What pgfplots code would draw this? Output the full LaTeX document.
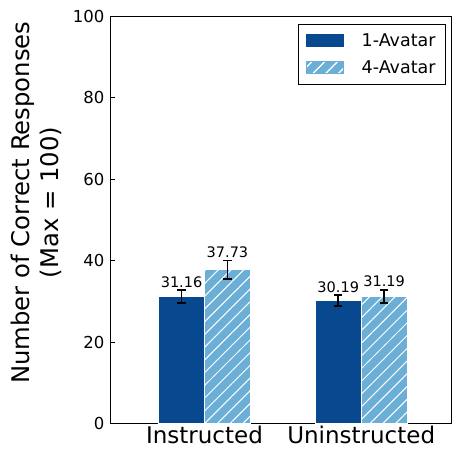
\documentclass[border=0pt]{standalone}
\usepackage{fontspec}
\setmainfont{DejaVu Sans}
\usepackage{pgfplots}
\pgfplotsset{compat=1.18}
\usetikzlibrary{patterns.meta}
\definecolor{darkb}{HTML}{08488E}
\definecolor{lightb}{HTML}{6BAED6}
\begin{document}
\begin{tikzpicture}
\begin{axis}[
  at={(0pt,0pt)}, anchor=south west,
  scale only axis, width=341pt, height=407.5pt,
  xmin=-0.603, xmax=1.573, ymin=0, ymax=100,
  xtick={0,1}, xticklabels={Instructed, Uninstructed},
  ytick={0,20,40,60,80,100},
  tick align=inside, xtick pos=bottom, ytick pos=left,
  major tick length=5pt,
  axis line style={line width=0.8pt, black},
  tick style={line width=0.8pt, black},
  /pgf/number format/assume math mode=true,
  yticklabel style={font=\fontsize{16.5}{16.5}\selectfont, xshift=-2pt},
  xticklabel style={font=\fontsize{23}{23}\selectfont, yshift=1pt},
  ylabel={Number of Correct Responses\\(Max = 100)},
  ylabel style={font=\fontsize{24.3}{29}\selectfont, align=center,
    at={(axis description cs:-0.215,0.542)}, anchor=center},
  legend style={at={(1,1)}, anchor=north east, xshift=-5pt, yshift=-8pt,
    draw=black, line width=0.8pt, font=\fontsize{17.5}{17.5}\selectfont,
    row sep=9pt, inner xsep=8pt, inner ysep=7pt,
    /tikz/every odd column/.append style={column sep=16pt}},
  legend cell align=left,
]
\addplot[ybar, bar width=0.293, bar shift=0, fill=darkb, draw=white, line width=0.6pt,
  legend image code/.code={\fill[darkb] (0pt,-6pt) rectangle (37pt,6pt);}]
  coordinates {(-0.1465,31.16) (0.8535,30.19)};
\addlegendentry{1-Avatar}
\addplot[ybar, bar width=0.293, bar shift=0, fill=lightb, draw=white, line width=0.6pt,
  postaction={pattern={Lines[angle=45,distance=9pt,line width=1pt]}, pattern color=white},
  legend image code/.code={\fill[lightb, postaction={pattern={Lines[angle=45,distance=9pt,line width=1pt]}, pattern color=white}] (0pt,-6pt) rectangle (37pt,6pt);}]
  coordinates {(0.1465,37.73) (1.1465,31.19)};
\addlegendentry{4-Avatar}
% error bars
\addplot[forget plot, draw=none, mark=none,
  error bars/.cd, y dir=both, y explicit,
  error bar style={line width=1.6pt, black},
  error mark options={rotate=90, mark size=4.2pt, line width=1.6pt, black}]
  coordinates {(-0.1465,31.16) +- (0,1.6) (0.8535,30.19) +- (0,1.3)
               (0.1465,37.73) +- (0,2.3) (1.1465,31.19) +- (0,1.6)};
% value labels
\addplot[forget plot, only marks, mark=none, nodes near coords,
  point meta=explicit symbolic,
  nodes near coords style={anchor=base, yshift=3pt, font=\fontsize{14.5}{14.5}\selectfont, text=black}]
  coordinates {(-0.1465,32.76) [31.16] (0.8535,31.49) [30.19]
               (0.1465,40.03) [37.73] (1.1465,32.79) [31.19]};
\end{axis}
\pgfresetboundingbox
\path[use as bounding box] (-110pt,-26.5pt) rectangle (342pt,423.5pt);
\end{tikzpicture}
\end{document}
